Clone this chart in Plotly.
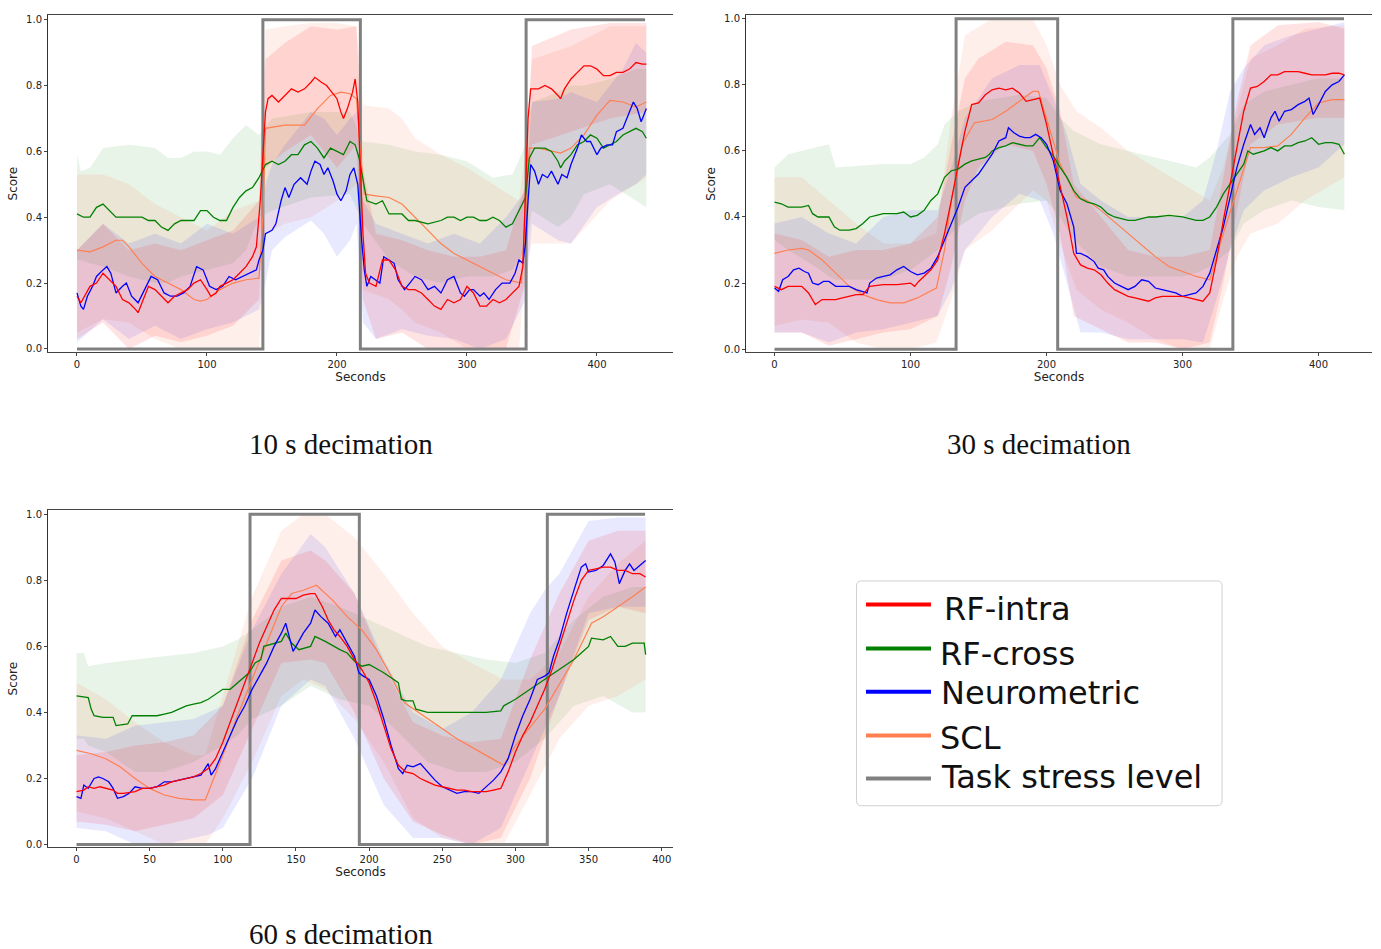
import plotly.graph_objects as go

W, H = 1381, 949

# ======================= DATA =======================
# ---------- Panel 1: 10 s decimation ----------
p1_task_x = [0, 143, 143, 218, 218, 219.5, 345.5, 345.5, 437]
p1_task_y = [0, 0, 1, 1, 0, 0, 0, 1, 1]

p1_intra_x = [0, 3, 10, 15, 20, 25, 30, 35, 40, 45, 47, 50, 55, 60, 65, 70, 75, 80, 85, 90, 95, 100, 103, 107, 110, 115, 120, 125, 130, 135, 138, 141, 143, 145, 147, 150, 155, 160, 165, 170, 175, 180, 183, 188, 192, 196, 200, 203, 205, 208, 212, 214, 216, 218, 220, 222, 225, 230, 235, 240, 245, 250, 255, 260, 265, 270, 275, 280, 285, 290, 295, 300, 305, 310, 315, 320, 325, 330, 335, 340, 343, 345, 347, 349, 355, 360, 365, 370, 372, 375, 380, 385, 390, 395, 400, 405, 410, 415, 420, 425, 430, 435, 438]
p1_intra_y = [0.16, 0.14, 0.19, 0.20, 0.23, 0.21, 0.19, 0.15, 0.14, 0.12, 0.11, 0.14, 0.19, 0.18, 0.16, 0.14, 0.16, 0.17, 0.18, 0.20, 0.21, 0.18, 0.16, 0.17, 0.19, 0.20, 0.21, 0.23, 0.25, 0.28, 0.31, 0.45, 0.60, 0.72, 0.76, 0.77, 0.75, 0.77, 0.79, 0.78, 0.79, 0.81, 0.825, 0.81, 0.80, 0.78, 0.76, 0.72, 0.70, 0.73, 0.78, 0.82, 0.75, 0.55, 0.35, 0.23, 0.20, 0.19, 0.27, 0.27, 0.24, 0.19, 0.18, 0.18, 0.17, 0.15, 0.13, 0.12, 0.15, 0.14, 0.15, 0.19, 0.17, 0.13, 0.13, 0.15, 0.14, 0.15, 0.17, 0.19, 0.25, 0.45, 0.70, 0.79, 0.79, 0.80, 0.79, 0.77, 0.76, 0.79, 0.82, 0.84, 0.86, 0.86, 0.85, 0.83, 0.83, 0.84, 0.84, 0.85, 0.87, 0.865, 0.865]

p1_cross_x = [0, 5, 10, 15, 20, 25, 30, 40, 50, 55, 60, 65, 70, 75, 80, 85, 90, 95, 100, 105, 110, 115, 120, 125, 130, 135, 140, 145, 150, 155, 160, 165, 170, 175, 180, 185, 190, 195, 200, 205, 210, 214, 217, 220, 223, 230, 235, 240, 245, 250, 255, 260, 270, 280, 285, 290, 295, 300, 305, 310, 315, 320, 325, 330, 335, 340, 345, 348, 352, 360, 365, 370, 372, 375, 380, 385, 390, 395, 400, 405, 410, 415, 420, 425, 430, 435, 438]
p1_cross_y = [0.41, 0.40, 0.40, 0.43, 0.44, 0.42, 0.40, 0.40, 0.40, 0.39, 0.39, 0.37, 0.36, 0.38, 0.39, 0.39, 0.39, 0.42, 0.42, 0.40, 0.39, 0.39, 0.43, 0.46, 0.48, 0.49, 0.52, 0.56, 0.57, 0.56, 0.57, 0.59, 0.59, 0.62, 0.63, 0.61, 0.58, 0.61, 0.60, 0.59, 0.63, 0.62, 0.58, 0.52, 0.45, 0.44, 0.45, 0.41, 0.41, 0.41, 0.39, 0.39, 0.38, 0.39, 0.40, 0.40, 0.39, 0.40, 0.40, 0.39, 0.39, 0.40, 0.39, 0.37, 0.38, 0.42, 0.46, 0.58, 0.61, 0.61, 0.60, 0.57, 0.55, 0.57, 0.59, 0.62, 0.63, 0.65, 0.64, 0.61, 0.62, 0.63, 0.65, 0.66, 0.67, 0.66, 0.64]

p1_neuro_x = [0, 3, 5, 8, 12, 15, 20, 23, 26, 30, 35, 38, 42, 47, 52, 57, 62, 67, 72, 77, 82, 87, 92, 97, 102, 107, 112, 117, 122, 127, 132, 138, 140, 143, 145, 150, 153, 157, 160, 163, 167, 172, 177, 180, 183, 187, 190, 193, 197, 200, 203, 207, 210, 213, 216, 217, 219, 221, 223, 226, 230, 233, 236, 240, 244, 247, 252, 256, 260, 265, 270, 275, 280, 285, 290, 295, 298, 302, 305, 310, 313, 317, 322, 327, 333, 337, 340, 343, 345, 347, 349, 352, 355, 358, 362, 365, 370, 373, 377, 380, 385, 388, 392, 395, 400, 403, 408, 412, 415, 420, 425, 428, 431, 434, 436, 438]
p1_neuro_y = [0.17, 0.13, 0.12, 0.16, 0.19, 0.22, 0.24, 0.25, 0.23, 0.17, 0.19, 0.20, 0.16, 0.14, 0.18, 0.22, 0.21, 0.17, 0.16, 0.16, 0.17, 0.19, 0.25, 0.24, 0.19, 0.18, 0.19, 0.22, 0.21, 0.22, 0.23, 0.24, 0.27, 0.30, 0.35, 0.36, 0.38, 0.45, 0.49, 0.46, 0.50, 0.52, 0.50, 0.54, 0.57, 0.56, 0.53, 0.55, 0.51, 0.47, 0.45, 0.48, 0.53, 0.55, 0.50, 0.43, 0.33, 0.24, 0.19, 0.22, 0.21, 0.20, 0.28, 0.27, 0.26, 0.21, 0.18, 0.20, 0.22, 0.21, 0.18, 0.19, 0.17, 0.21, 0.22, 0.17, 0.16, 0.18, 0.18, 0.16, 0.17, 0.15, 0.18, 0.20, 0.20, 0.23, 0.27, 0.26, 0.32, 0.45, 0.56, 0.54, 0.50, 0.53, 0.52, 0.54, 0.50, 0.53, 0.52, 0.56, 0.61, 0.65, 0.63, 0.63, 0.59, 0.61, 0.62, 0.62, 0.66, 0.67, 0.72, 0.75, 0.73, 0.69, 0.71, 0.73]

p1_scl_x = [0, 10, 20, 30, 35, 40, 50, 60, 70, 80, 90, 95, 100, 110, 120, 130, 140, 143, 145, 160, 175, 185, 195, 203, 210, 215, 218, 221, 230, 240, 250, 260, 270, 280, 290, 300, 310, 320, 330, 342, 345, 348, 355, 365, 372, 380, 390, 400, 410, 420, 430, 438]
p1_scl_y = [0.30, 0.295, 0.31, 0.33, 0.33, 0.31, 0.26, 0.22, 0.20, 0.18, 0.15, 0.145, 0.15, 0.18, 0.20, 0.21, 0.215, 0.40, 0.67, 0.68, 0.68, 0.73, 0.77, 0.78, 0.775, 0.76, 0.60, 0.47, 0.465, 0.46, 0.44, 0.40, 0.36, 0.32, 0.29, 0.27, 0.25, 0.23, 0.21, 0.20, 0.40, 0.61, 0.61, 0.60, 0.595, 0.61, 0.65, 0.71, 0.755, 0.75, 0.735, 0.75]

p1_cross_band_x = [0, 3, 10, 20, 40, 60, 70, 80, 90, 100, 110, 120, 130, 140, 150, 180, 210, 220, 240, 260, 280, 300, 320, 335, 345, 350, 370, 380, 390, 410, 430, 438]
p1_cross_hi = [0.59, 0.54, 0.55, 0.61, 0.62, 0.61, 0.58, 0.58, 0.60, 0.60, 0.59, 0.64, 0.68, 0.65, 0.70, 0.72, 0.72, 0.63, 0.62, 0.60, 0.59, 0.57, 0.52, 0.53, 0.62, 0.75, 0.78, 0.80, 0.80, 0.82, 0.85, 0.85]
p1_cross_lo = [0.27, 0.27, 0.26, 0.25, 0.22, 0.20, 0.20, 0.22, 0.23, 0.24, 0.25, 0.26, 0.30, 0.40, 0.42, 0.46, 0.47, 0.38, 0.27, 0.22, 0.20, 0.22, 0.22, 0.24, 0.30, 0.42, 0.37, 0.40, 0.47, 0.50, 0.45, 0.43]

p1_intra_band_x = [0, 20, 40, 60, 80, 100, 120, 140, 145, 160, 180, 200, 215, 220, 230, 250, 270, 290, 310, 330, 345, 350, 380, 410, 438]
p1_intra_hi = [0.30, 0.38, 0.30, 0.32, 0.30, 0.33, 0.36, 0.45, 0.88, 0.93, 0.98, 0.97, 0.98, 0.55, 0.35, 0.33, 0.30, 0.28, 0.28, 0.30, 0.50, 0.92, 0.97, 0.99, 0.99]
p1_intra_lo = [0.03, 0.08, 0.00, 0.04, 0.02, 0.04, 0.07, 0.15, 0.55, 0.60, 0.65, 0.55, 0.62, 0.15, 0.03, 0.05, 0.00, 0.00, 0.00, 0.00, 0.20, 0.62, 0.66, 0.70, 0.72]

p1_neuro_band_x = [0, 20, 40, 60, 80, 100, 120, 140, 145, 150, 160, 180, 190, 200, 210, 215, 220, 230, 250, 270, 290, 310, 330, 345, 350, 370, 380, 400, 420, 430, 438]
p1_neuro_hi = [0.30, 0.38, 0.32, 0.35, 0.32, 0.38, 0.35, 0.40, 0.50, 0.56, 0.62, 0.72, 0.70, 0.65, 0.70, 0.72, 0.45, 0.38, 0.35, 0.32, 0.35, 0.32, 0.40, 0.48, 0.75, 0.76, 0.78, 0.75, 0.85, 0.93, 0.90]
p1_neuro_lo = [0.02, 0.09, 0.03, 0.07, 0.03, 0.06, 0.08, 0.12, 0.20, 0.30, 0.34, 0.39, 0.35, 0.28, 0.33, 0.38, 0.08, 0.03, 0.06, 0.04, 0.03, 0.00, 0.03, 0.15, 0.38, 0.33, 0.32, 0.43, 0.48, 0.50, 0.53]

p1_scl_band_x = [0, 20, 40, 60, 80, 100, 120, 140, 145, 160, 180, 200, 215, 220, 240, 250, 260, 280, 300, 320, 340, 345, 350, 380, 410, 438]
p1_scl_hi = [0.53, 0.53, 0.50, 0.44, 0.40, 0.36, 0.42, 0.45, 0.97, 0.98, 0.99, 0.99, 0.98, 0.74, 0.73, 0.70, 0.64, 0.59, 0.55, 0.50, 0.45, 0.60, 0.88, 0.92, 0.98, 0.98]
p1_scl_lo = [0.05, 0.09, 0.08, 0.03, 0.00, 0.00, 0.00, 0.00, 0.35, 0.38, 0.40, 0.45, 0.50, 0.18, 0.15, 0.12, 0.08, 0.05, 0.00, 0.00, 0.00, 0.25, 0.32, 0.32, 0.45, 0.52]

# ---------- Panel 2: 30 s decimation ----------
p2_task_x = [0, 133.5, 133.5, 208.2, 208.2, 210, 337, 337, 418.7]
p2_task_y = [0, 0, 1, 1, 0, 0, 0, 1, 1]

p2_intra_x = [0, 5, 10, 20, 25, 30, 35, 40, 45, 50, 55, 60, 65, 70, 80, 90, 100, 103, 106, 110, 115, 120, 125, 130, 135, 140, 145, 150, 155, 160, 165, 170, 175, 180, 185, 190, 195, 200, 205, 210, 215, 220, 225, 230, 235, 240, 245, 250, 255, 260, 265, 270, 275, 280, 285, 290, 295, 300, 305, 310, 315, 320, 325, 330, 335, 340, 345, 350, 355, 360, 365, 370, 375, 380, 385, 390, 395, 400, 405, 410, 415, 419]
p2_intra_y = [0.19, 0.18, 0.19, 0.19, 0.17, 0.135, 0.15, 0.15, 0.15, 0.155, 0.16, 0.165, 0.165, 0.19, 0.195, 0.195, 0.20, 0.19, 0.205, 0.22, 0.24, 0.27, 0.35, 0.45, 0.56, 0.66, 0.74, 0.745, 0.77, 0.785, 0.79, 0.785, 0.79, 0.775, 0.75, 0.755, 0.76, 0.68, 0.59, 0.50, 0.40, 0.29, 0.255, 0.245, 0.24, 0.225, 0.20, 0.18, 0.17, 0.16, 0.155, 0.15, 0.145, 0.155, 0.16, 0.16, 0.16, 0.16, 0.155, 0.15, 0.145, 0.17, 0.27, 0.39, 0.50, 0.60, 0.72, 0.79, 0.795, 0.81, 0.83, 0.83, 0.84, 0.84, 0.84, 0.835, 0.83, 0.83, 0.83, 0.835, 0.835, 0.83]

p2_cross_x = [0, 5, 10, 20, 25, 28, 32, 40, 44, 48, 55, 60, 65, 70, 75, 80, 90, 95, 100, 105, 110, 115, 120, 125, 130, 135, 140, 145, 150, 155, 158, 160, 165, 170, 175, 180, 185, 190, 195, 200, 205, 210, 215, 220, 225, 230, 235, 240, 245, 250, 255, 260, 265, 270, 275, 280, 290, 300, 305, 310, 315, 320, 325, 330, 335, 340, 345, 348, 352, 360, 365, 370, 375, 380, 385, 390, 395, 400, 405, 410, 415, 419]
p2_cross_y = [0.445, 0.44, 0.43, 0.43, 0.435, 0.41, 0.40, 0.40, 0.37, 0.36, 0.36, 0.365, 0.38, 0.40, 0.405, 0.41, 0.41, 0.415, 0.40, 0.405, 0.42, 0.45, 0.47, 0.52, 0.54, 0.545, 0.56, 0.57, 0.575, 0.58, 0.59, 0.60, 0.61, 0.615, 0.625, 0.62, 0.615, 0.615, 0.64, 0.61, 0.585, 0.55, 0.52, 0.48, 0.455, 0.445, 0.44, 0.43, 0.41, 0.40, 0.395, 0.39, 0.39, 0.395, 0.40, 0.40, 0.405, 0.40, 0.395, 0.39, 0.39, 0.40, 0.43, 0.47, 0.50, 0.53, 0.56, 0.60, 0.59, 0.60, 0.61, 0.60, 0.615, 0.615, 0.625, 0.63, 0.64, 0.62, 0.625, 0.625, 0.62, 0.59]

p2_neuro_x = [0, 3, 6, 10, 14, 18, 22, 25, 28, 32, 36, 40, 45, 50, 55, 60, 65, 68, 70, 75, 80, 85, 90, 95, 100, 105, 110, 115, 120, 125, 130, 135, 140, 145, 150, 155, 160, 165, 170, 172, 176, 180, 184, 188, 192, 196, 200, 205, 210, 215, 220, 222, 225, 230, 235, 238, 242, 245, 250, 255, 260, 265, 270, 275, 280, 285, 290, 295, 300, 305, 310, 315, 320, 325, 330, 335, 340, 345, 350, 353, 357, 360, 365, 368, 371, 375, 380, 385, 390, 393, 396, 400, 405, 410, 415, 419]
p2_neuro_y = [0.185, 0.175, 0.21, 0.22, 0.24, 0.245, 0.235, 0.23, 0.20, 0.195, 0.205, 0.205, 0.19, 0.19, 0.19, 0.18, 0.175, 0.17, 0.20, 0.215, 0.22, 0.225, 0.24, 0.25, 0.235, 0.225, 0.23, 0.245, 0.28, 0.33, 0.38, 0.43, 0.49, 0.51, 0.53, 0.56, 0.59, 0.63, 0.64, 0.67, 0.655, 0.645, 0.64, 0.64, 0.65, 0.64, 0.62, 0.57, 0.48, 0.44, 0.37, 0.29, 0.29, 0.28, 0.265, 0.245, 0.24, 0.22, 0.20, 0.19, 0.18, 0.19, 0.21, 0.205, 0.185, 0.18, 0.175, 0.17, 0.16, 0.165, 0.17, 0.19, 0.23, 0.30, 0.37, 0.46, 0.55, 0.62, 0.68, 0.65, 0.67, 0.64, 0.70, 0.72, 0.69, 0.72, 0.725, 0.74, 0.75, 0.76, 0.71, 0.74, 0.78, 0.80, 0.81, 0.83]

p2_scl_x = [0, 10, 20, 25, 35, 45, 55, 65, 75, 85, 95, 105, 115, 119, 125, 130, 138, 147, 160, 170, 180, 190, 194, 200, 210, 222, 230, 240, 250, 260, 270, 280, 290, 300, 310, 320, 330, 340, 350, 360, 370, 380, 390, 400, 410, 419]
p2_scl_y = [0.29, 0.30, 0.305, 0.30, 0.27, 0.23, 0.19, 0.165, 0.15, 0.14, 0.14, 0.155, 0.175, 0.185, 0.30, 0.45, 0.62, 0.685, 0.695, 0.72, 0.75, 0.78, 0.78, 0.70, 0.56, 0.46, 0.45, 0.42, 0.385, 0.35, 0.315, 0.28, 0.25, 0.235, 0.22, 0.21, 0.35, 0.48, 0.61, 0.61, 0.615, 0.65, 0.70, 0.745, 0.755, 0.755]

p2_cross_band_x = [0, 10, 30, 40, 45, 80, 100, 110, 120, 125, 135, 150, 180, 200, 210, 220, 240, 260, 280, 300, 310, 320, 335, 345, 360, 380, 400, 419]
p2_cross_hi = [0.55, 0.59, 0.61, 0.62, 0.55, 0.56, 0.56, 0.58, 0.62, 0.68, 0.72, 0.75, 0.77, 0.76, 0.70, 0.66, 0.62, 0.60, 0.58, 0.56, 0.55, 0.58, 0.65, 0.74, 0.78, 0.80, 0.82, 0.82]
p2_cross_lo = [0.33, 0.30, 0.25, 0.22, 0.21, 0.21, 0.24, 0.27, 0.30, 0.33, 0.37, 0.41, 0.44, 0.45, 0.40, 0.33, 0.25, 0.22, 0.22, 0.22, 0.23, 0.25, 0.30, 0.38, 0.42, 0.45, 0.43, 0.42]

p2_intra_band_x = [0, 20, 40, 60, 80, 100, 120, 130, 140, 150, 170, 190, 200, 210, 220, 240, 260, 280, 300, 320, 330, 340, 350, 370, 400, 419]
p2_intra_hi = [0.35, 0.33, 0.28, 0.30, 0.30, 0.32, 0.40, 0.62, 0.82, 0.88, 0.93, 0.92, 0.85, 0.72, 0.50, 0.40, 0.30, 0.28, 0.28, 0.30, 0.52, 0.75, 0.92, 0.98, 0.99, 0.97]
p2_intra_lo = [0.05, 0.05, 0.01, 0.03, 0.05, 0.06, 0.10, 0.25, 0.45, 0.55, 0.62, 0.60, 0.50, 0.35, 0.10, 0.06, 0.02, 0.02, 0.00, 0.02, 0.20, 0.42, 0.62, 0.68, 0.70, 0.70]

p2_neuro_band_x = [0, 20, 40, 60, 80, 100, 120, 130, 140, 160, 180, 195, 205, 215, 225, 240, 260, 280, 300, 315, 325, 335, 345, 360, 380, 400, 419]
p2_neuro_hi = [0.38, 0.40, 0.35, 0.32, 0.40, 0.42, 0.42, 0.55, 0.70, 0.82, 0.86, 0.86, 0.76, 0.65, 0.50, 0.45, 0.40, 0.40, 0.40, 0.45, 0.60, 0.78, 0.85, 0.92, 0.95, 0.97, 0.99]
p2_neuro_lo = [0.05, 0.05, 0.02, 0.05, 0.06, 0.08, 0.10, 0.18, 0.30, 0.40, 0.47, 0.45, 0.35, 0.20, 0.05, 0.05, 0.03, 0.03, 0.03, 0.02, 0.15, 0.30, 0.42, 0.48, 0.52, 0.55, 0.62]

p2_scl_band_x = [0, 20, 40, 60, 80, 100, 119, 130, 140, 160, 190, 200, 210, 222, 240, 260, 280, 300, 320, 330, 340, 350, 370, 390, 419]
p2_scl_hi = [0.52, 0.52, 0.45, 0.38, 0.32, 0.32, 0.35, 0.70, 0.95, 1.00, 1.00, 0.92, 0.80, 0.72, 0.67, 0.60, 0.55, 0.50, 0.45, 0.55, 0.72, 0.88, 0.92, 0.97, 0.98]
p2_scl_lo = [0.07, 0.09, 0.08, 0.02, 0.00, 0.00, 0.02, 0.15, 0.30, 0.36, 0.48, 0.45, 0.32, 0.18, 0.12, 0.08, 0.03, 0.00, 0.00, 0.15, 0.28, 0.35, 0.38, 0.45, 0.52]

# ---------- Panel 3: 60 s decimation ----------
p3_task_x = [0, 118.6, 118.6, 193.3, 193.3, 194.5, 321.8, 321.8, 388.6]
p3_task_y = [0, 0, 1, 1, 0, 0, 0, 1, 1]

p3_intra_x = [0, 5, 8, 12, 16, 20, 25, 28, 32, 40, 45, 50, 55, 60, 65, 70, 75, 80, 85, 90, 95, 100, 105, 110, 115, 120, 125, 130, 135, 140, 145, 150, 155, 160, 163, 168, 172, 176, 180, 185, 190, 195, 200, 205, 210, 215, 220, 225, 230, 235, 240, 245, 250, 255, 260, 265, 270, 275, 280, 285, 290, 295, 300, 305, 310, 315, 320, 325, 330, 335, 340, 345, 350, 355, 360, 365, 370, 375, 380, 385, 389]
p3_intra_y = [0.16, 0.165, 0.175, 0.17, 0.175, 0.17, 0.165, 0.155, 0.155, 0.16, 0.17, 0.17, 0.175, 0.18, 0.19, 0.195, 0.20, 0.205, 0.215, 0.23, 0.26, 0.31, 0.37, 0.43, 0.49, 0.55, 0.61, 0.66, 0.71, 0.745, 0.745, 0.745, 0.755, 0.76, 0.76, 0.72, 0.68, 0.65, 0.63, 0.60, 0.56, 0.53, 0.49, 0.43, 0.36, 0.29, 0.24, 0.22, 0.215, 0.20, 0.19, 0.18, 0.175, 0.17, 0.165, 0.165, 0.16, 0.16, 0.16, 0.165, 0.17, 0.22, 0.28, 0.33, 0.37, 0.42, 0.47, 0.53, 0.60, 0.67, 0.74, 0.80, 0.83, 0.835, 0.84, 0.84, 0.83, 0.83, 0.82, 0.82, 0.81]

p3_cross_x = [0, 8, 10, 12, 18, 25, 27, 35, 38, 45, 55, 60, 65, 70, 75, 80, 85, 90, 95, 100, 105, 110, 118, 122, 126, 128, 135, 140, 143, 147, 152, 160, 163, 170, 180, 185, 190, 195, 200, 210, 220, 222, 225, 230, 232, 240, 250, 260, 270, 280, 290, 292, 300, 310, 320, 330, 340, 345, 350, 352, 360, 365, 370, 375, 380, 385, 388, 389]
p3_cross_y = [0.45, 0.445, 0.41, 0.39, 0.385, 0.385, 0.36, 0.365, 0.39, 0.39, 0.39, 0.395, 0.40, 0.41, 0.42, 0.425, 0.43, 0.44, 0.455, 0.47, 0.47, 0.49, 0.52, 0.55, 0.56, 0.60, 0.61, 0.615, 0.64, 0.61, 0.59, 0.60, 0.63, 0.615, 0.59, 0.58, 0.555, 0.54, 0.545, 0.52, 0.49, 0.44, 0.435, 0.435, 0.41, 0.40, 0.40, 0.40, 0.40, 0.40, 0.405, 0.42, 0.44, 0.47, 0.50, 0.53, 0.56, 0.58, 0.60, 0.625, 0.62, 0.63, 0.60, 0.60, 0.61, 0.61, 0.61, 0.575]

p3_neuro_x = [0, 3, 5, 8, 12, 15, 18, 22, 25, 28, 32, 36, 40, 45, 50, 55, 60, 65, 70, 75, 80, 85, 90, 92, 95, 100, 105, 110, 115, 120, 125, 130, 135, 140, 143, 146, 148, 150, 155, 160, 163, 167, 172, 177, 180, 185, 190, 193, 196, 200, 205, 210, 215, 220, 223, 226, 230, 235, 240, 245, 250, 255, 260, 265, 270, 275, 280, 285, 290, 295, 300, 305, 310, 315, 320, 323, 326, 330, 335, 340, 345, 348, 350, 355, 360, 365, 368, 371, 375, 378, 381, 385, 389]
p3_neuro_y = [0.145, 0.14, 0.18, 0.17, 0.20, 0.205, 0.20, 0.19, 0.17, 0.14, 0.145, 0.155, 0.175, 0.17, 0.17, 0.175, 0.19, 0.19, 0.195, 0.20, 0.205, 0.21, 0.245, 0.21, 0.23, 0.28, 0.33, 0.38, 0.42, 0.47, 0.51, 0.55, 0.60, 0.64, 0.67, 0.62, 0.585, 0.60, 0.64, 0.67, 0.71, 0.69, 0.67, 0.63, 0.65, 0.61, 0.57, 0.52, 0.51, 0.50, 0.45, 0.38, 0.30, 0.23, 0.215, 0.24, 0.235, 0.245, 0.22, 0.195, 0.175, 0.165, 0.155, 0.16, 0.16, 0.155, 0.175, 0.195, 0.22, 0.26, 0.33, 0.39, 0.44, 0.50, 0.51, 0.52, 0.57, 0.62, 0.70, 0.77, 0.84, 0.85, 0.825, 0.83, 0.845, 0.88, 0.855, 0.79, 0.83, 0.85, 0.83, 0.845, 0.86]

p3_scl_x = [0, 10, 20, 30, 40, 50, 60, 70, 80, 88, 100, 110, 120, 130, 140, 147, 155, 164, 175, 185, 195, 205, 215, 224, 240, 260, 280, 292, 300, 320, 340, 352, 360, 370, 380, 389]
p3_scl_y = [0.285, 0.275, 0.26, 0.235, 0.20, 0.17, 0.15, 0.14, 0.135, 0.135, 0.27, 0.39, 0.50, 0.61, 0.72, 0.76, 0.77, 0.785, 0.74, 0.69, 0.65, 0.59, 0.51, 0.43, 0.38, 0.32, 0.27, 0.24, 0.30, 0.41, 0.56, 0.67, 0.69, 0.72, 0.75, 0.78]

p3_cross_band_x = [0, 5, 8, 20, 40, 60, 80, 100, 110, 120, 140, 160, 180, 200, 220, 240, 260, 280, 300, 320, 340, 360, 380, 389]
p3_cross_hi = [0.58, 0.58, 0.54, 0.55, 0.56, 0.57, 0.58, 0.60, 0.62, 0.65, 0.72, 0.75, 0.72, 0.68, 0.64, 0.60, 0.58, 0.56, 0.55, 0.58, 0.68, 0.75, 0.78, 0.78]
p3_cross_lo = [0.32, 0.32, 0.30, 0.28, 0.22, 0.22, 0.25, 0.30, 0.33, 0.38, 0.42, 0.48, 0.44, 0.42, 0.34, 0.25, 0.22, 0.22, 0.25, 0.32, 0.42, 0.45, 0.40, 0.40]

p3_intra_band_x = [0, 20, 40, 60, 80, 100, 120, 140, 160, 170, 190, 210, 230, 250, 270, 290, 310, 330, 350, 370, 389]
p3_intra_hi = [0.27, 0.28, 0.30, 0.31, 0.33, 0.42, 0.68, 0.86, 0.89, 0.86, 0.76, 0.54, 0.37, 0.33, 0.31, 0.32, 0.56, 0.76, 0.92, 0.95, 0.95]
p3_intra_lo = [0.07, 0.06, 0.04, 0.06, 0.08, 0.15, 0.35, 0.55, 0.56, 0.55, 0.40, 0.20, 0.07, 0.03, 0.00, 0.02, 0.20, 0.45, 0.68, 0.72, 0.70]

p3_neuro_band_x = [0, 20, 40, 60, 80, 90, 100, 120, 140, 160, 170, 190, 210, 230, 250, 270, 290, 310, 320, 330, 350, 370, 389]
p3_neuro_hi = [0.33, 0.32, 0.36, 0.37, 0.38, 0.40, 0.42, 0.65, 0.82, 0.94, 0.90, 0.76, 0.56, 0.40, 0.35, 0.40, 0.50, 0.70, 0.77, 0.82, 0.98, 0.99, 0.99]
p3_neuro_lo = [0.05, 0.04, 0.00, 0.00, 0.02, 0.03, 0.05, 0.20, 0.42, 0.50, 0.48, 0.32, 0.12, 0.02, 0.02, 0.00, 0.05, 0.25, 0.35, 0.45, 0.70, 0.72, 0.72]

p3_scl_band_x = [0, 20, 40, 60, 80, 88, 100, 120, 140, 155, 170, 190, 210, 230, 250, 270, 292, 310, 330, 350, 370, 389]
p3_scl_hi = [0.49, 0.44, 0.37, 0.31, 0.27, 0.27, 0.45, 0.75, 0.95, 1.00, 1.00, 0.93, 0.82, 0.70, 0.60, 0.55, 0.50, 0.50, 0.58, 0.75, 0.85, 0.92]
p3_scl_lo = [0.10, 0.08, 0.04, 0.00, 0.00, 0.00, 0.08, 0.25, 0.45, 0.50, 0.47, 0.38, 0.25, 0.08, 0.02, 0.00, 0.00, 0.15, 0.32, 0.42, 0.45, 0.50]

series_names = ["RF-intra", "RF-cross", "Neurometric", "SCL", "Task stress level"]
panel_titles = ["10 s decimation", "30 s decimation", "60 s decimation"]
x_tick_vals = [[0, 100, 200, 300, 400], [0, 100, 200, 300, 400],
               [0, 50, 100, 150, 200, 250, 300, 350, 400]]
y_tick_vals = [0.0, 0.2, 0.4, 0.6, 0.8, 1.0]

# ======================= STYLE =======================
COL = {"RF-intra": "#ff0000", "RF-cross": "#008000", "Neurometric": "#0000ff",
       "SCL": "#ff7f50", "Task stress level": "#808080"}
BAND = {"RF-intra": "rgba(255,0,0,0.11)", "RF-cross": "rgba(0,128,0,0.09)",
        "Neurometric": "rgba(0,0,255,0.09)", "SCL": "rgba(255,127,80,0.12)"}

panels = [
    dict(task=(p1_task_x, p1_task_y),
         lines={"RF-intra": (p1_intra_x, p1_intra_y), "RF-cross": (p1_cross_x, p1_cross_y),
                "Neurometric": (p1_neuro_x, p1_neuro_y), "SCL": (p1_scl_x, p1_scl_y)},
         bands={"RF-cross": (p1_cross_band_x, p1_cross_lo, p1_cross_hi),
                "SCL": (p1_scl_band_x, p1_scl_lo, p1_scl_hi),
                "Neurometric": (p1_neuro_band_x, p1_neuro_lo, p1_neuro_hi),
                "RF-intra": (p1_intra_band_x, p1_intra_lo, p1_intra_hi)}),
    dict(task=(p2_task_x, p2_task_y),
         lines={"RF-intra": (p2_intra_x, p2_intra_y), "RF-cross": (p2_cross_x, p2_cross_y),
                "Neurometric": (p2_neuro_x, p2_neuro_y), "SCL": (p2_scl_x, p2_scl_y)},
         bands={"RF-cross": (p2_cross_band_x, p2_cross_lo, p2_cross_hi),
                "SCL": (p2_scl_band_x, p2_scl_lo, p2_scl_hi),
                "Neurometric": (p2_neuro_band_x, p2_neuro_lo, p2_neuro_hi),
                "RF-intra": (p2_intra_band_x, p2_intra_lo, p2_intra_hi)}),
    dict(task=(p3_task_x, p3_task_y),
         lines={"RF-intra": (p3_intra_x, p3_intra_y), "RF-cross": (p3_cross_x, p3_cross_y),
                "Neurometric": (p3_neuro_x, p3_neuro_y), "SCL": (p3_scl_x, p3_scl_y)},
         bands={"RF-cross": (p3_cross_band_x, p3_cross_lo, p3_cross_hi),
                "SCL": (p3_scl_band_x, p3_scl_lo, p3_scl_hi),
                "Neurometric": (p3_neuro_band_x, p3_neuro_lo, p3_neuro_hi),
                "RF-intra": (p3_intra_band_x, p3_intra_lo, p3_intra_hi)}),
]

# pixel boxes of each plot area: (left, right, top, bottom) and axis ranges
boxes = [(48, 673, 13.5, 351.7), (746, 1372, 13.5, 352.3), (48, 673, 511, 849.5)]
xranges = [[-22.3, 458.5], [-20.96, 439.3], [-19.5, 407.7]]
yranges = [[-0.009, 1.013], [-0.010, 1.010], [-0.0075, 1.012]]

fig = go.Figure()
layout = dict(width=W, height=H, margin=dict(l=0, r=0, t=0, b=0),
              paper_bgcolor="white", plot_bgcolor="white", showlegend=False,
              font=dict(family="DejaVu Sans", color="#222"))

for i, p in enumerate(panels):
    ax = "" if i == 0 else str(i + 1)
    xa, ya = "x" + ax, "y" + ax
    for name in ["RF-cross", "SCL", "Neurometric", "RF-intra"]:
        bx, lo, hi = p["bands"][name]
        fig.add_trace(go.Scatter(x=list(bx) + list(bx)[::-1], y=list(hi) + list(lo)[::-1],
                                 fill="toself", fillcolor=BAND[name], mode="none",
                                 hoverinfo="skip", xaxis=xa, yaxis=ya, name=name + " band"))
    tx, ty = p["task"]
    fig.add_trace(go.Scatter(x=tx, y=ty, mode="lines", line=dict(color=COL["Task stress level"], width=3),
                             xaxis=xa, yaxis=ya, name="Task stress level"))
    for name in ["SCL", "RF-cross", "Neurometric", "RF-intra"]:
        lx, ly = p["lines"][name]
        fig.add_trace(go.Scatter(x=lx, y=ly, mode="lines",
                                 line=dict(color=COL[name], width=1.3 if name != "SCL" else 1.2),
                                 xaxis=xa, yaxis=ya, name=name))
    l, r, t, b = boxes[i]
    layout["xaxis" + ax] = dict(domain=[l / W, r / W], range=xranges[i], anchor=ya,
                                showline=True, linecolor="#444", linewidth=1, mirror=True,
                                showgrid=False, zeroline=False, ticks="outside", ticklen=3,
                                tickcolor="#444", tickvals=x_tick_vals[i],
                                ticktext=[str(v) for v in x_tick_vals[i]],
                                tickfont=dict(size=10, color="#222"),
                                title=dict(text="Seconds", font=dict(size=12, color="#222"), standoff=2))
    layout["yaxis" + ax] = dict(domain=[1 - b / H, 1 - t / H], range=yranges[i], anchor=xa,
                                showline=True, linecolor="#333", linewidth=1, mirror=False,
                                showgrid=False, zeroline=False, ticks="outside", ticklen=3,
                                tickcolor="#444", tickvals=y_tick_vals,
                                ticktext=["%.1f" % v for v in y_tick_vals],
                                tickfont=dict(size=10, color="#222"),
                                title=dict(text="Score", font=dict(size=12, color="#222"), standoff=5))

fig.update_layout(**layout)

# panel captions
cap_pos = [(341, 444), (1039, 444), (341, 937)]
for (cx, cy), txt in zip(cap_pos, panel_titles):
    fig.add_annotation(x=cx / W, y=1 - cy / H, xref="paper", yref="paper", text=txt,
                       showarrow=False, xanchor="center", yanchor="middle",
                       font=dict(family="Liberation Serif", size=29, color="#111"))

# legend box (drawn)
lx0, lx1, ly0, ly1 = 856.5, 1222, 582, 808
rr = 5
def px(x): return x / W
def py(y): return 1 - y / H
path = (f"M {px(lx0 + rr)},{py(ly0)} L {px(lx1 - rr)},{py(ly0)} Q {px(lx1)},{py(ly0)} {px(lx1)},{py(ly0 + rr)} "
        f"L {px(lx1)},{py(ly1 - rr)} Q {px(lx1)},{py(ly1)} {px(lx1 - rr)},{py(ly1)} "
        f"L {px(lx0 + rr)},{py(ly1)} Q {px(lx0)},{py(ly1)} {px(lx0)},{py(ly1 - rr)} "
        f"L {px(lx0)},{py(ly0 + rr)} Q {px(lx0)},{py(ly0)} {px(lx0 + rr)},{py(ly0)} Z")
fig.add_shape(type="path", path=path, xref="paper", yref="paper",
              line=dict(color="#d0d0d0", width=1), fillcolor="rgba(255,255,255,0.8)")
leg_sw_y = [605.7, 650, 693.3, 737.3, 780.7]
leg_tx = [(942, 610.5), (938, 655), (938.5, 695), (938, 740), (938.5, 779.5)]
for name, sy, (tx_, ty_) in zip(series_names, leg_sw_y, leg_tx):
    fig.add_shape(type="line", xref="paper", yref="paper", x0=px(866), x1=px(931), y0=py(sy), y1=py(sy),
                  line=dict(color=COL[name], width=4))
    fig.add_annotation(x=px(tx_), y=py(ty_), xref="paper", yref="paper", text=name, showarrow=False,
                       xanchor="left", yanchor="middle",
                       font=dict(family="DejaVu Sans", size=32, color="#111"))

fig.write_html("out.html")
